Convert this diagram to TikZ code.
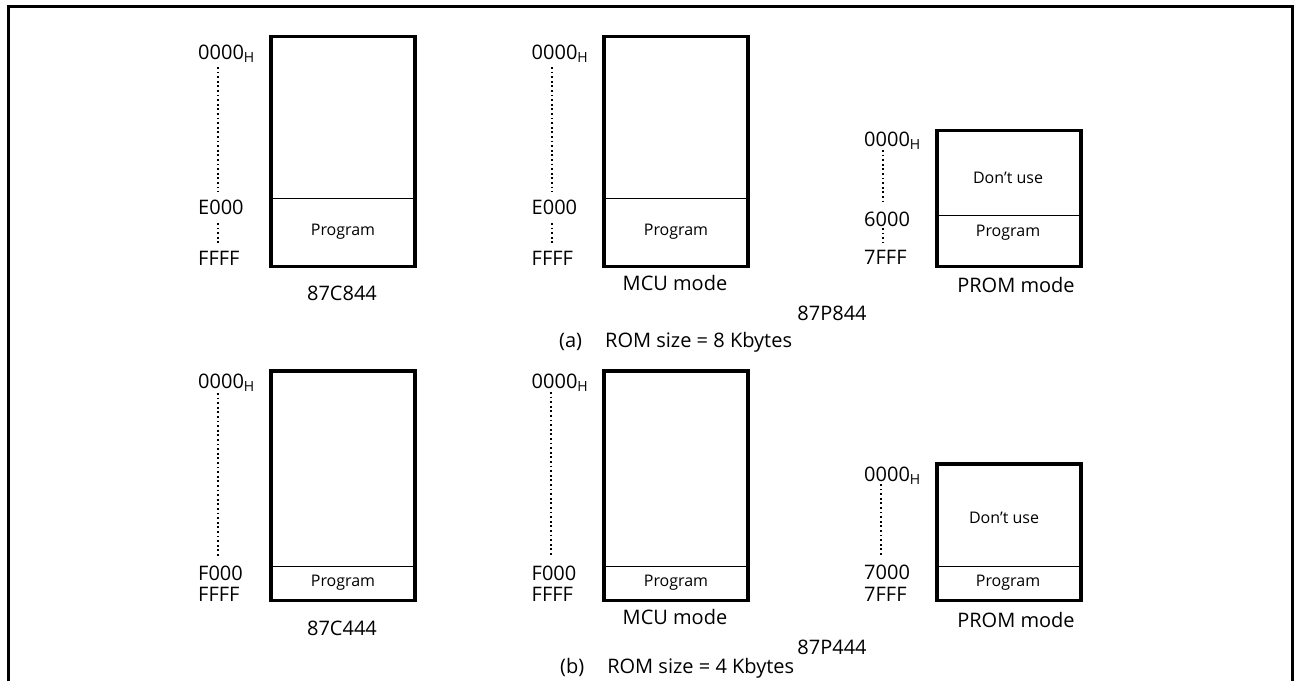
\documentclass[tikz,border=0pt]{standalone}
\usepackage{fontspec}
\setmainfont{Open Sans}
\usetikzlibrary{arrows,shapes,positioning}
\tikzset{
  mem/.style={line width=3.2pt},
  sep/.style={line width=1pt},
  addr/.style={anchor=base west,inner sep=0pt,font=\fontsize{20}{24}\selectfont},
  chipname/.style={inner sep=0pt,font=\fontsize{20}{24}\selectfont},
  cell/.style={inner sep=0pt,font=\fontsize{16}{19}\selectfont},
  dots/.style={line width=1.7pt,dash pattern=on 1.7pt off 2.9pt}
}

\begin{document}
\begin{tikzpicture}[x=1pt,y=-1pt] %1pt = 1px of the page
\useasboundingbox (0,0) rectangle (1294,681);
\draw[line width=2.7pt](8.5,681)--(8.5,6.5)--(1292.5,6.5)--(1292.5,681);

% (a) 8 Kbytes
\node[addr] (atopC) at (198,59) {0000\textsubscript{H}};
\node[addr] (amidC) at (198,214) {E000};
\node[addr] (aendC) at (198,265) {FFFF};
\draw[dots](218,67)--(218,192);
\draw[dots](218,223)--(218,244);
\draw[mem](271,36.5) rectangle (415,266.5);
\draw[sep](271,198.7)--(415,198.7);
\node[cell] (aprogC) at (343,232) {Program};
\node[chipname] (anameC) at (342,293) {87C844};

\node[addr] (atopM) at (531.5,59) {0000\textsubscript{H}};
\node[addr] (amidM) at (531.5,214) {E000};
\node[addr] (aendM) at (531.5,265) {FFFF};
\draw[dots](552,67)--(552,192);
\draw[dots](552,223)--(552,244);
\draw[mem](604,36.5) rectangle (748,266.5);
\draw[sep](604,198.7)--(748,198.7);
\node[cell] (aprogM) at (676,232) {Program};
\node[chipname] (amodeM) at (675,283) {MCU mode};

\node[addr] (atopP) at (864,146.5) {0000\textsubscript{H}};
\node[addr] (amidP) at (864,226) {6000};
\node[addr] (aendP) at (864,264.5) {7FFF};
\draw[dots](883,150)--(883,202);
\draw[dots](883,228)--(883,243);
\draw[mem](937,130.5) rectangle (1081,266.5);
\draw[sep](937,215.7)--(1081,215.7);
\node[cell] (afreeP) at (1008,178) {Don’t use};
\node[cell] (aprogP) at (1008,233) {Program};
\node[chipname] (amodeP) at (1016,285) {PROM mode};
\node[chipname] (anameP) at (832,313) {87P844};
\node[chipname,anchor=base west] (acapt) at (559,347) {(a)\hspace{23pt}ROM size = 8 Kbytes};

% (b) 4 Kbytes
\node[addr] (btopC) at (198,388) {0000\textsubscript{H}};
\node[addr] (bmidC) at (198,580) {F000};
\node[addr] (bendC) at (198,601) {FFFF};
\draw[dots](218,393)--(218,557);
\draw[mem](271,371) rectangle (415,600.5);
\draw[sep](271,566)--(415,566);
\node[cell] (bprogC) at (343,583) {Program};
\node[chipname] (bnameC) at (342,628) {87C444};

\node[addr] (btopM) at (531.5,388) {0000\textsubscript{H}};
\node[addr] (bmidM) at (531.5,580) {F000};
\node[addr] (bendM) at (531.5,601) {FFFF};
\draw[dots](551,392)--(551,555);
\draw[mem](604,371) rectangle (748,600.5);
\draw[sep](604,566)--(748,566);
\node[cell] (bprogM) at (676,583) {Program};
\node[chipname] (bmodeM) at (675,617) {MCU mode};

\node[addr] (btopP) at (864,481.5) {0000\textsubscript{H}};
\node[addr] (bmidP) at (864,579.5) {7000};
\node[addr] (bendP) at (864,601) {7FFF};
\draw[dots](881,484)--(881,557);
\draw[mem](937,464) rectangle (1081,600.5);
\draw[sep](937,566)--(1081,566);
\node[cell] (bfreeP) at (1004,518) {Don’t use};
\node[cell] (bprogP) at (1008,583) {Program};
\node[chipname] (bmodeP) at (1016,620) {PROM mode};
\node[chipname] (bnameP) at (832,647) {87P444};
\node[chipname,anchor=base west] (bcapt) at (560,673) {(b)\hspace{23pt}ROM size = 4 Kbytes};
\end{tikzpicture}
\end{document}
